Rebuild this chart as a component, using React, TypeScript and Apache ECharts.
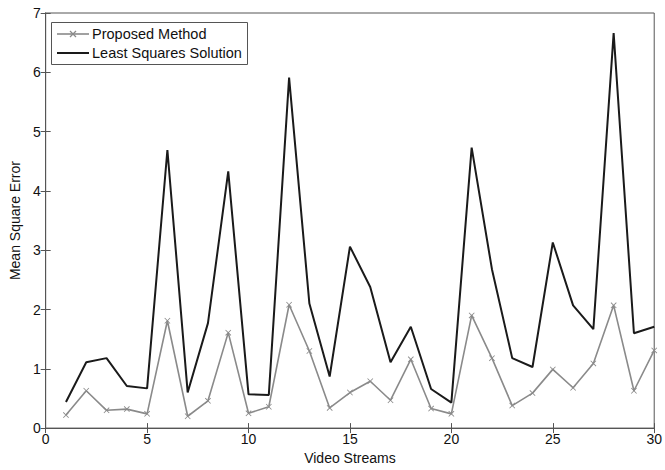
import React, { useEffect, useRef } from "react";
import * as echarts from "echarts";

const streams = [1,2,3,4,5,6,7,8,9,10,11,12,13,14,15,16,17,18,19,20,21,22,23,24,25,26,27,28,29,30];
const proposed = [0.22,0.63,0.30,0.32,0.24,1.81,0.20,0.46,1.61,0.25,0.36,2.08,1.30,0.34,0.60,0.79,0.47,1.16,0.33,0.24,1.90,1.18,0.38,0.59,0.99,0.68,1.09,2.07,0.63,1.31];
const leastSquares = [0.44,1.11,1.18,0.71,0.67,4.69,0.60,1.77,4.33,0.57,0.56,5.91,2.10,0.87,3.06,2.38,1.11,1.71,0.66,0.43,4.73,2.68,1.18,1.03,3.13,2.07,1.67,6.66,1.60,1.71];
const seriesNames = ["Proposed Method", "Least Squares Solution"];
const xTitle = "Video Streams";
const yTitle = "Mean Square Error";

const X_SYMBOL = "path://M0,1L1,0L10,9L9,10ZM9,0L10,1L1,10L0,9Z";
const GRAY = "#8a8a8a";
const BLACK = "#1a1a1a";

export default function App() {
  const ref = useRef<HTMLDivElement>(null);
  useEffect(() => {
    if (!ref.current) return;
    const chart = echarts.init(ref.current, null, { renderer: "svg" });
    const font = "Liberation Sans, Arial, sans-serif";
    const axisColor = "#555";
    const tickStyle = { show: true, inside: true, length: 5, lineStyle: { color: axisColor } };
    const legendRows = [
      { name: seriesNames[0], color: GRAY, width: 1.6, marker: true, y: 34 },
      { name: seriesNames[1], color: BLACK, width: 2, marker: false, y: 53 },
    ];
    const legendGraphics: any[] = [
      { type: "rect", shape: { x: 51.5, y: 22.5, width: 196, height: 42 }, style: { fill: "#fff", stroke: axisColor, lineWidth: 1 }, z: 10 },
    ];
    legendRows.forEach((r) => {
      legendGraphics.push({ type: "line", shape: { x1: 57, y1: r.y, x2: 89, y2: r.y }, style: { stroke: r.color, lineWidth: r.width }, z: 11 });
      if (r.marker) {
        legendGraphics.push({ type: "line", shape: { x1: 70, y1: r.y - 3, x2: 76, y2: r.y + 3 }, style: { stroke: r.color, lineWidth: 1.2 }, z: 12 });
        legendGraphics.push({ type: "line", shape: { x1: 76, y1: r.y - 3, x2: 70, y2: r.y + 3 }, style: { stroke: r.color, lineWidth: 1.2 }, z: 12 });
      }
      legendGraphics.push({ type: "text", x: 92, y: r.y, style: { text: r.name, fontFamily: font, fontSize: 14.5, fill: "#111", verticalAlign: "middle", align: "left" }, z: 12 });
    });
    chart.setOption({
      animation: false,
      backgroundColor: "#fff",
      textStyle: { fontFamily: font },
      grid: { left: 42, right: 9, top: 13, bottom: 37, show: true, borderColor: axisColor, borderWidth: 1, backgroundColor: "transparent" },
      graphic: legendGraphics,
      xAxis: [
        {
          type: "value", min: 0, max: 30, interval: 5,
          name: xTitle, nameLocation: "middle", nameGap: 19,
          nameTextStyle: { fontFamily: font, fontSize: 14, color: "#111" },
          axisLine: { show: true, lineStyle: { color: axisColor } },
          axisTick: tickStyle,
          axisLabel: { fontFamily: font, fontSize: 14, color: "#111", margin: 4 },
          splitLine: { show: false },
        },
        {
          type: "value", min: 0, max: 30, interval: 5, position: "top",
          axisLine: { show: true, lineStyle: { color: axisColor } },
          axisTick: tickStyle, axisLabel: { show: false }, splitLine: { show: false },
        },
      ],
      yAxis: [
        {
          type: "value", min: 0, max: 7, interval: 1,
          name: yTitle, nameLocation: "middle", nameGap: 17,
          nameTextStyle: { fontFamily: font, fontSize: 14, color: "#111" },
          axisLine: { show: true, lineStyle: { color: axisColor } },
          axisTick: tickStyle,
          axisLabel: { fontFamily: font, fontSize: 14, color: "#111", margin: 5 },
          splitLine: { show: false },
        },
        {
          type: "value", min: 0, max: 7, interval: 1, position: "right",
          axisLine: { show: true, lineStyle: { color: axisColor } },
          axisTick: tickStyle, axisLabel: { show: false }, splitLine: { show: false },
        },
      ],
      series: [
        {
          name: seriesNames[0], type: "line",
          data: streams.map((s, i) => [s, proposed[i]]),
          symbol: X_SYMBOL, symbolSize: 6, showSymbol: true,
          lineStyle: { color: GRAY, width: 1.6 },
          itemStyle: { color: GRAY },
          z: 3,
        },
        {
          name: seriesNames[1], type: "line",
          data: streams.map((s, i) => [s, leastSquares[i]]),
          symbol: "none",
          lineStyle: { color: BLACK, width: 2 },
          itemStyle: { color: BLACK },
          z: 2,
        },
      ],
    });
    return () => chart.dispose();
  }, []);
  return <div ref={ref} style={{ width: 665, height: 470, position: "absolute", left: 0, top: 0 }} />;
}
